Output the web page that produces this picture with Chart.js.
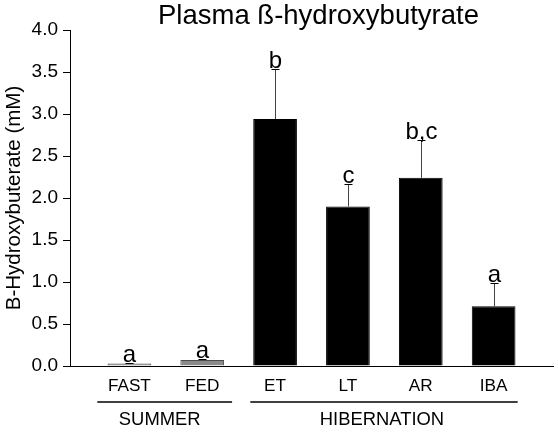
<!DOCTYPE html>
<html>
<head>
<meta charset="utf-8">
<script src="https://cdn.jsdelivr.net/npm/chart.js@4/dist/chart.umd.min.js"></script>
<style>
  html, body { margin: 0; padding: 0; background: #fff; }
  #wrap { width: 558px; height: 432px; }
</style>
</head>
<body>
<div id="wrap"><canvas id="bhbChart"></canvas></div>
<script>
// Dados
const categories = ['FAST', 'FED', 'ET', 'LT', 'AR', 'IBA'];
const means = [0.03, 0.07, 2.94, 1.90, 2.24, 0.71];
const errors = [0.01, 0.015, 0.60, 0.27, 0.45, 0.28];
const letters = ['a', 'a', 'b', 'c', 'b,c', 'a'];
const groupNames = ['SUMMER', 'HIBERNATION'];
const groupFirst = [0, 2];
const groupLast = [1, 5];
const yTicks = [0, 0.5, 1.0, 1.5, 2.0, 2.5, 3.0, 3.5, 4.0];

const FONT = '"Liberation Sans", Arial, sans-serif';
Chart.defaults.font.family = FONT;
Chart.defaults.color = '#000';

// barras de erro + letras de significância
const errorBars = {
    id: 'errorBars',
    afterDatasetsDraw(chart) {
        const { ctx, scales: { x, y } } = chart;
        ctx.save();
        means.forEach((m, i) => {
            const px = Math.round(x.getPixelForValue(i)) + 0.5;
            const base = y.getPixelForValue(m);
            const top = Math.round(y.getPixelForValue(m + errors[i])) + 0.5;
            ctx.lineWidth = 1;
            ctx.strokeStyle = '#444';
            ctx.beginPath();
            ctx.moveTo(px, base);
            ctx.lineTo(px, top);
            ctx.stroke();
            ctx.strokeStyle = '#000';
            ctx.beginPath();
            ctx.moveTo(px - 4, top);
            ctx.lineTo(px + 4, top);
            ctx.stroke();
            ctx.fillStyle = '#000';
            ctx.font = '24px ' + FONT;
            ctx.textAlign = 'center';
            ctx.textBaseline = 'alphabetic';
            ctx.fillText(letters[i], px, top - 2);
        });
        ctx.restore();
    },
    afterDraw(chart) {
        const { ctx, chartArea, scales: { x } } = chart;
        ctx.save();
        // título
        ctx.fillStyle = '#000';
        ctx.font = '27.5px ' + FONT;
        ctx.textAlign = 'center';
        ctx.textBaseline = 'alphabetic';
        ctx.fillText('Plasma ß-hydroxybutyrate', (chartArea.left + chartArea.right) / 2 + 7, 24);
        // grupos
        const padL = [0.44, 0.34];
        const padR = [0.41, 0.33];
        ctx.font = '18.4px ' + FONT;
        groupNames.forEach((g, k) => {
            const x0 = x.getPixelForValue(groupFirst[k] - padL[k]);
            const x1 = x.getPixelForValue(groupLast[k] + padR[k]);
            ctx.strokeStyle = '#000';
            ctx.lineWidth = 1.5;
            ctx.beginPath();
            ctx.moveTo(x0, chartArea.bottom + 36);
            ctx.lineTo(x1, chartArea.bottom + 36);
            ctx.stroke();
            ctx.fillText(g, (x0 + x1) / 2 - (k === 0 ? 5 : 2), chartArea.bottom + 59);
        });
        ctx.restore();
    }
};

new Chart(document.getElementById('bhbChart'), {
    type: 'bar',
    data: {
        datasets: [{
            data: means.map((v, i) => ({ x: i, y: v })),
            backgroundColor: categories.map((c, i) => i < 2 ? '#8a8a8a' : '#000'),
            borderColor: categories.map((c, i) => i < 2 ? '#4d4d4d' : '#000'),
            borderWidth: 1,
            barPercentage: 0.6,
            categoryPercentage: 1
        }]
    },
    options: {
        responsive: true,
        maintainAspectRatio: false,
        animation: false,
        layout: { padding: { top: 30, right: 5, left: 0, bottom: 0 } },
        plugins: { legend: { display: false }, tooltip: { enabled: false } },
        scales: {
            x: {
                type: 'linear',
                offset: false,
                min: -0.815,
                max: 5.815,
                afterFit: s => { s.height = 66; },
                afterBuildTicks: s => { s.ticks = categories.map((c, i) => ({ value: i })); },
                grid: { display: true, drawOnChartArea: false, drawTicks: false, color: '#000' },
                border: { display: true, color: '#000', width: 1 },
                ticks: {
                    autoSkip: false,
                    maxRotation: 0,
                    padding: 10,
                    font: { size: 17.2 },
                    callback: (v, i) => categories[i]
                }
            },
            y: {
                min: 0,
                max: 4,
                afterFit: s => { s.width = 70; },
                afterBuildTicks: s => { s.ticks = yTicks.map(v => ({ value: v })); },
                grid: { drawOnChartArea: false, drawTicks: true, tickLength: 7, color: '#000' },
                border: { display: true, color: '#000', width: 1 },
                ticks: {
                    padding: 5,
                    font: { size: 19 },
                    callback: v => v.toFixed(1)
                },
                title: {
                    display: true,
                    text: 'B-Hydroxybuterate (mM)',
                    font: { size: 20.5 },
                    padding: { top: 2, bottom: 0 }
                }
            }
        }
    },
    plugins: [errorBars]
});
</script>
</body>
</html>
